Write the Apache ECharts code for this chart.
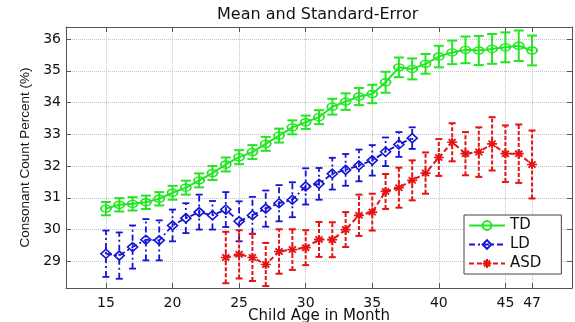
<!DOCTYPE html>
<html><head><meta charset="utf-8">
<script src="https://cdn.jsdelivr.net/npm/echarts@6/dist/echarts.min.js"></script>
<style>html,body{margin:0;padding:0;background:#fff}#c{width:575px;height:322px}</style>
</head><body><div id="c"></div>
<script>
const titleText = 'Mean and Standard-Error';
const xName = 'Child Age in Month';
const yName = 'Consonant Count Percent (%)';
const xTicks = [15, 20, 25, 30, 35, 40, 45, 47];
const yTicks = [29, 30, 31, 32, 33, 34, 35, 36];

const tdMonths = [15,16,17,18,19,20,21,22,23,24,25,26,27,28,29,30,31,32,33,34,35,36,37,38,39,40,41,42,43,44,45,46,47];
const tdMean = [30.66,30.78,30.81,30.86,30.97,31.16,31.32,31.55,31.78,32.05,32.28,32.44,32.70,32.96,33.22,33.38,33.54,33.87,34.03,34.19,34.27,34.64,35.11,35.06,35.22,35.45,35.58,35.66,35.64,35.69,35.74,35.79,35.64];
const tdErr = [0.21,0.21,0.21,0.21,0.21,0.22,0.22,0.22,0.22,0.22,0.22,0.22,0.22,0.22,0.22,0.21,0.22,0.25,0.26,0.27,0.29,0.33,0.31,0.33,0.31,0.34,0.37,0.42,0.46,0.47,0.47,0.48,0.47];

const ldMonths = [15,16,17,18,19,20,21,22,23,24,25,26,27,28,29,30,31,32,33,34,35,36,37,38];
const ldMean = [29.24,29.18,29.45,29.68,29.66,30.13,30.36,30.55,30.45,30.63,30.26,30.45,30.66,30.83,30.94,31.36,31.44,31.76,31.88,32.02,32.18,32.45,32.68,32.88];
const ldErr = [0.73,0.73,0.68,0.65,0.63,0.50,0.47,0.55,0.45,0.55,0.63,0.58,0.57,0.57,0.55,0.57,0.50,0.50,0.50,0.50,0.48,0.45,0.39,0.34];

const asdMonths = [24,25,26,27,28,29,30,31,32,33,34,35,36,37,38,39,40,41,42,43,44,45,46,47];
const asdMean = [29.12,29.22,29.12,28.90,29.31,29.37,29.43,29.69,29.68,30.00,30.45,30.55,31.20,31.32,31.55,31.78,32.27,32.75,32.39,32.44,32.70,32.39,32.39,32.05];
const asdErr = [0.81,0.76,0.74,0.68,0.70,0.64,0.55,0.55,0.55,0.55,0.65,0.58,0.55,0.63,0.63,0.65,0.58,0.60,0.68,0.78,0.84,0.89,0.92,1.07];

const G = '#22e622', B = '#1414d2', R = '#e41414';
const FONT = 'DejaVu Sans';

function pairs(ms, vs) { return ms.map((m, i) => [m, vs[i]]); }

function errSeries(id, ms, vs, es, color, dash, cap, width) {
  return {
    type: 'custom', name: id, silent: true, z: 2,
    data: ms.map((m, i) => [m, vs[i] - es[i], vs[i] + es[i]]),
    encode: { x: 0, y: [1, 2] },
    renderItem: function (params, api) {
      const x = api.value(0);
      const lo = api.coord([x, api.value(1)]);
      const hi = api.coord([x, api.value(2)]);
      const st = { stroke: color, lineWidth: width, lineDash: dash, fill: null };
      const cs = { stroke: color, lineWidth: width, fill: null };
      return { type: 'group', children: [
        { type: 'line', shape: { x1: lo[0], y1: lo[1], x2: hi[0], y2: hi[1] }, style: st },
        { type: 'line', shape: { x1: hi[0] - cap / 2, y1: hi[1], x2: hi[0] + cap / 2, y2: hi[1] }, style: cs },
        { type: 'line', shape: { x1: lo[0] - cap / 2, y1: lo[1], x2: lo[0] + cap / 2, y2: lo[1] }, style: cs }
      ]};
    }
  };
}

const axisColor = '#555';
const chart = echarts.init(document.getElementById('c'), null, { renderer: 'canvas' });
chart.setOption({
  animation: false,
  backgroundColor: '#fff',
  title: { text: titleText, left: 217, top: 7, padding: 0,
    textStyle: { fontSize: 16, fontWeight: 'normal', fontFamily: FONT, color: '#111' } },
  grid: { left: 66, right: 3, top: 27, bottom: 34, show: false, containLabel: false, outerBoundsMode: 'none' },
  legend: {
    data: ['TD', 'LD', 'ASD'], orient: 'vertical', left: 464, top: 215,
    itemWidth: 36, itemHeight: 11, itemGap: 4, padding: [3, 20, 3, 4],
    backgroundColor: '#fff', borderColor: '#444', borderWidth: 1, borderRadius: 0,
    selectedMode: false,
    textStyle: { fontSize: 15, fontFamily: FONT, color: '#111' }
  },
  xAxis: [{
    type: 'value', min: 12, max: 50, position: 'bottom',
    axisLine: { show: true, lineStyle: { color: axisColor } },
    axisTick: { show: true, inside: true, length: 5, customValues: xTicks, lineStyle: { color: axisColor } },
    axisLabel: { customValues: xTicks, color: '#111', fontSize: 14, fontFamily: FONT, margin: 8 },
    splitLine: { show: true, lineStyle: { color: '#c4c4c4', type: 'dotted' } },
    name: xName, nameLocation: 'middle', nameGap: 21, nameMoveOverlap: false,
    nameTextStyle: { fontSize: 15, fontFamily: FONT, color: '#111' }
  }, {
    type: 'value', min: 12, max: 50, position: 'top',
    axisLine: { show: true, lineStyle: { color: axisColor } },
    axisTick: { show: true, inside: true, length: 5, customValues: xTicks, lineStyle: { color: axisColor } },
    axisLabel: { show: false, customValues: xTicks },
    splitLine: { show: false }
  }],
  yAxis: [{
    type: 'value', min: 28.16, max: 36.38, position: 'left',
    axisLine: { show: true, lineStyle: { color: axisColor } },
    axisTick: { show: true, inside: true, length: 5, customValues: yTicks, lineStyle: { color: axisColor } },
    axisLabel: { customValues: yTicks, color: '#111', fontSize: 14, fontFamily: FONT, margin: 5 },
    splitLine: { show: true, lineStyle: { color: '#c4c4c4', type: 'dotted' } },
    name: yName, nameLocation: 'middle', nameGap: 34, nameMoveOverlap: false,
    nameTextStyle: { fontSize: 13.5, fontFamily: 'Liberation Sans', color: '#111' }
  }, {
    type: 'value', min: 28.16, max: 36.38, position: 'right',
    axisLine: { show: true, lineStyle: { color: axisColor } },
    axisTick: { show: true, inside: true, length: 5, customValues: yTicks, lineStyle: { color: axisColor } },
    axisLabel: { show: false, customValues: yTicks },
    splitLine: { show: false }
  }],
  series: [
    errSeries('TD-err', tdMonths, tdMean, tdErr, G, null, 10, 2),
    errSeries('LD-err', ldMonths, ldMean, ldErr, B, [6, 3, 2, 3], 7, 1.8),
    errSeries('ASD-err', asdMonths, asdMean, asdErr, R, [4, 2], 7, 2),
    { type: 'line', name: 'TD', data: pairs(tdMonths, tdMean), color: G, z: 3,
      symbol: 'circle', symbolSize: [10, 7], showAllSymbol: true,
      itemStyle: { color: 'rgba(255,255,255,0)', borderColor: G, borderWidth: 1.6 },
      lineStyle: { color: G, width: 2 } },
    { type: 'line', name: 'LD', data: pairs(ldMonths, ldMean), color: B, z: 3,
      symbol: 'diamond', symbolSize: [10, 9], showAllSymbol: true,
      itemStyle: { color: 'rgba(255,255,255,0)', borderColor: B, borderWidth: 1.6 },
      lineStyle: { color: B, width: 1.8, type: [6, 3, 2, 3] } },
    { type: 'line', name: 'ASD', data: pairs(asdMonths, asdMean), color: R, z: 3,
      symbol: 'path://M5,0L5,10M0,5L10,5M1.5,1.5L8.5,8.5M1.5,8.5L8.5,1.5', symbolSize: [10, 9], showAllSymbol: true,
      itemStyle: { color: 'rgba(255,255,255,0)', borderColor: R, borderWidth: 1.8 },
      lineStyle: { color: R, width: 2, type: [5, 3] } }
  ]
});
</script></body></html>
